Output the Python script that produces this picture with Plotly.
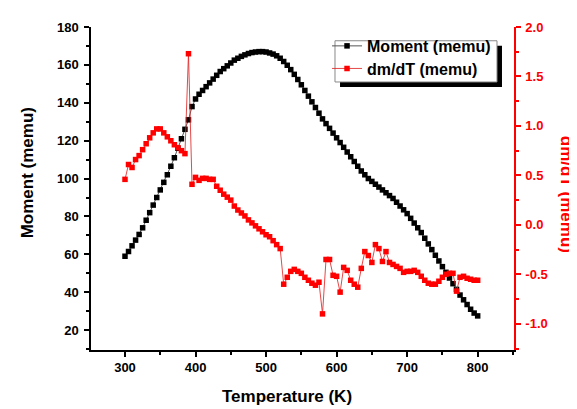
import plotly.graph_objects as go

temperature = list(range(300, 805, 5))

moment = [
    59, 61.5, 64.5, 67.5, 70.5, 74, 78, 82, 86, 90,
    94, 98, 102, 106.5, 111, 116, 121, 126, 131, 138,
    142, 144.5, 146.5, 148.5, 150.5, 152.5, 154.5, 156.5, 158, 159.5,
    161, 162.5, 163.5, 164.5, 165.3, 166, 166.5, 166.8, 167, 167,
    166.8, 166.3, 165.7, 164.8, 163.5, 161.8, 159.8, 157.5, 155, 152.3,
    149.5, 146.5, 143.5, 140.5, 137.5, 134.5, 131.5, 129, 126.5, 124,
    121.5, 119, 116.5, 114, 111.5, 109, 106.5, 104, 102, 100,
    98.5, 97, 95.5, 94, 92.5, 91, 89.5, 87.5, 85.5, 83.5,
    81.5, 79, 76.5, 74, 71.5, 68.5, 65.5, 62.5, 59.5, 56.5,
    53.5, 50.5, 47.5, 44.5, 41.5, 38.5, 36, 33.5, 31, 29,
    27.5,
]

dmdt = [
    0.46, 0.61, 0.58, 0.66, 0.70, 0.76, 0.82, 0.88, 0.93, 0.97,
    0.97, 0.93, 0.89, 0.85, 0.81, 0.78, 0.75, 0.72, 1.73, 0.41,
    0.48, 0.45, 0.47, 0.47, 0.46, 0.46, 0.39, 0.35, 0.31, 0.28,
    0.25, 0.19, 0.15, 0.12, 0.09, 0.05, 0.02, -0.01, -0.04, -0.07,
    -0.10, -0.12, -0.16, -0.20, -0.24, -0.60, -0.53, -0.47, -0.45, -0.47,
    -0.49, -0.53, -0.56, -0.59, -0.61, -0.58, -0.90, -0.35, -0.35, -0.51,
    -0.52, -0.68, -0.43, -0.46, -0.56, -0.60, -0.63, -0.44, -0.27, -0.31,
    -0.38, -0.20, -0.24, -0.37, -0.27, -0.38, -0.40, -0.42, -0.44, -0.48,
    -0.47, -0.47, -0.46, -0.48, -0.52, -0.56, -0.59, -0.60, -0.60, -0.57,
    -0.53, -0.50, -0.49, -0.49, -0.67, -0.53, -0.52, -0.54, -0.55, -0.56,
    -0.56,
]

x_ticks = [300, 400, 500, 600, 700, 800]
x_tick_labels = ["300", "400", "500", "600", "700", "800"]
y_ticks = [20, 40, 60, 80, 100, 120, 140, 160, 180]
y_tick_labels = ["20", "40", "60", "80", "100", "120", "140", "160", "180"]
y2_ticks = [-1.0, -0.5, 0.0, 0.5, 1.0, 1.5, 2.0]
y2_tick_labels = ["-1.0", "-0.5", "0.0", "0.5", "1.0", "1.5", "2.0"]

FONT = "Liberation Sans, Arial, sans-serif"
RED = "#ff0000"

fig = go.Figure()

fig.add_trace(go.Scatter(
    x=temperature, y=dmdt, name="dm/dT (memu)", yaxis="y2",
    mode="lines+markers", legend="legend2",
    line=dict(color="rgba(225,40,40,0.85)", width=1),
    marker=dict(symbol="square", size=5.5, color=RED),
))
fig.add_trace(go.Scatter(
    x=temperature, y=moment, name="Moment (memu)",
    mode="lines+markers", legend="legend",
    line=dict(color="#555555", width=1),
    marker=dict(symbol="square", size=5.5, color="black"),
))

legend_style = dict(
    xanchor="left", yanchor="top",
    bgcolor="rgba(0,0,0,0)", borderwidth=0,
    font=dict(size=16, weight="bold", family=FONT),
    itemwidth=30,
)

xr = [251.8, 851.5]
fig.update_layout(
    width=569, height=401,
    margin=dict(l=83, r=63, t=13, b=59),
    paper_bgcolor="white", plot_bgcolor="white",
    font=dict(family=FONT, color="black"),
    showlegend=True,
    xaxis=dict(
        range=xr, tickmode="array", tickvals=x_ticks, ticktext=x_tick_labels,
        ticks="outside", ticklen=5, tickwidth=1.5, tickcolor="black",
        minor=dict(tickmode="linear", tick0=350, dtick=100, ticks="outside", ticklen=3, tickwidth=1.5, tickcolor="black"),
        showline=True, linecolor="black", linewidth=1.5,
        showgrid=False, zeroline=False,
        tickfont=dict(size=13, weight="bold", family=FONT),
        ticklabelstandoff=0,
    ),
    xaxis2=dict(
        range=xr, overlaying="x", side="top", anchor="y",
        tickmode="array", tickvals=x_ticks, showticklabels=False,
        ticks="inside", ticklen=5, tickwidth=1.5, tickcolor="black",
        minor=dict(tickmode="linear", tick0=350, dtick=100, ticks="inside", ticklen=3, tickwidth=1.5, tickcolor="black"),
        showline=True, linecolor="black", linewidth=1.5,
        showgrid=False, zeroline=False,
    ),
    yaxis=dict(
        range=[9.5, 180], tickmode="array", tickvals=y_ticks, ticktext=y_tick_labels,
        ticks="outside", ticklen=5, tickwidth=1.5, tickcolor="black",
        minor=dict(tickmode="linear", tick0=30, dtick=20, ticks="outside", ticklen=3, tickwidth=1.5, tickcolor="black"),
        showline=True, linecolor="black", linewidth=1.5,
        showgrid=False, zeroline=False,
        tickfont=dict(size=13, weight="bold", family=FONT),
        ticklabelstandoff=3,
    ),
    yaxis2=dict(
        range=[-1.265, 2.0], overlaying="y", side="right", anchor="x",
        tickmode="array", tickvals=y2_ticks, ticktext=y2_tick_labels,
        ticks="outside", ticklen=5, tickwidth=1.5, tickcolor=RED,
        minor=dict(tickmode="linear", tick0=-0.75, dtick=0.5, ticks="outside", ticklen=3, tickwidth=1.5, tickcolor=RED),
        showline=True, linecolor=RED, linewidth=1.5,
        showgrid=False, zeroline=False,
        tickfont=dict(size=13, weight="bold", family=FONT, color=RED),
        ticklabelstandoff=2,
    ),
    legend=dict(x=0.558, y=0.9939, **legend_style),
    legend2=dict(x=0.558, y=0.924, **legend_style),
    annotations=[
        dict(text="Moment (memu)", xref="paper", yref="paper", x=-0.1513, y=0.547,
             xanchor="center", yanchor="middle",
             textangle=-90, showarrow=False, font=dict(size=17, weight="bold", family=FONT)),
        dict(text="Temperature (K)", xref="paper", yref="paper", x=0.4634, y=-0.1429,
             xanchor="center", yanchor="middle",
             showarrow=False, font=dict(size=17, weight="bold", family=FONT)),
        dict(text="dm/dT (memu)", xref="paper", yref="paper", x=1.123, y=0.4833,
             xanchor="center", yanchor="middle",
             textangle=90, showarrow=False, font=dict(size=17, weight="bold", family=FONT, color=RED)),
    ],
    shapes=[
        dict(type="rect", xref="paper", yref="paper", x0=0.5887, x1=0.9716, y0=0.8146, y1=0.9422,
             fillcolor="black", line=dict(width=0), layer="above"),
        dict(type="rect", xref="paper", yref="paper", x0=0.5768, x1=0.9598, y0=0.8298, y1=0.9574,
             fillcolor="white", line=dict(width=1, color="#888888"), layer="above"),
    ],
)

fig.write_html("out.html")
